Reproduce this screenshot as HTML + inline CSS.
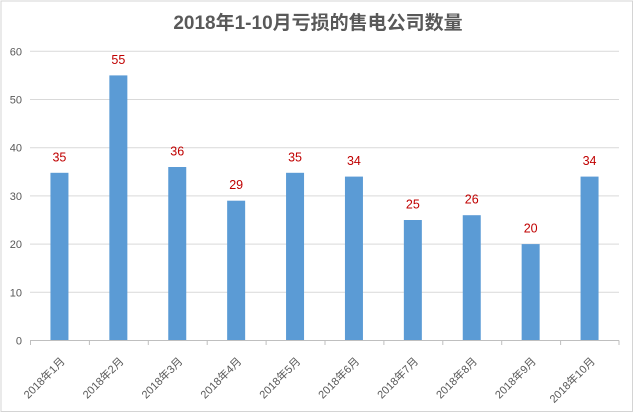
<!DOCTYPE html>
<html>
<head>
<meta charset="utf-8">
<style>
html,body{margin:0;padding:0;background:#fff;}
svg{display:block;}
</style>
</head>
<body>
<svg width="636" height="414" viewBox="0 0 636 414" xmlns="http://www.w3.org/2000/svg">
  <rect x="0" y="0" width="636" height="414" fill="#ffffff"/>
  <rect x="1" y="1" width="631.5" height="410.5" fill="none" stroke="#d4d4d4" stroke-width="1"/>

  <!-- title -->
  <text x="318" y="29" text-anchor="middle" font-family="'Liberation Sans','Noto Sans CJK SC',sans-serif" font-size="19" font-weight="bold" fill="#595959">2018年1-10月亏损的售电公司数量</text>

  <!-- gridlines -->
  <g stroke="#d9d9d9" stroke-width="1">
    <line x1="30" y1="51.3" x2="619" y2="51.3"/>
    <line x1="30" y1="99.5" x2="619" y2="99.5"/>
    <line x1="30" y1="147.7" x2="619" y2="147.7"/>
    <line x1="30" y1="195.9" x2="619" y2="195.9"/>
    <line x1="30" y1="244.1" x2="619" y2="244.1"/>
    <line x1="30" y1="292.3" x2="619" y2="292.3"/>
  </g>

  <!-- y labels -->
  <g font-family="'Liberation Sans',sans-serif" font-size="11" fill="#595959" text-anchor="end">
    <text x="22" y="55.3">60</text>
    <text x="22" y="103.5">50</text>
    <text x="22" y="151.7">40</text>
    <text x="22" y="199.9">30</text>
    <text x="22" y="248.1">20</text>
    <text x="22" y="296.3">10</text>
    <text x="22" y="344.5">0</text>
  </g>

  <!-- bars -->
  <g fill="#5b9bd5">
    <rect x="50.45" y="172.8" width="18" height="167.7"/>
    <rect x="109.35" y="75.4" width="18" height="265.1"/>
    <rect x="168.25" y="167.0" width="18" height="173.5"/>
    <rect x="227.15" y="200.7" width="18" height="139.8"/>
    <rect x="286.05" y="172.8" width="18" height="167.7"/>
    <rect x="344.95" y="176.6" width="18" height="163.9"/>
    <rect x="403.85" y="220.0" width="18" height="120.5"/>
    <rect x="462.75" y="215.2" width="18" height="125.3"/>
    <rect x="521.65" y="244.1" width="18" height="96.4"/>
    <rect x="580.55" y="176.6" width="18" height="163.9"/>
  </g>

  <!-- axis + ticks -->
  <g stroke="#bfbfbf" stroke-width="1">
    <line x1="30" y1="340.5" x2="619" y2="340.5"/>
    <line x1="30.5" y1="340.5" x2="30.5" y2="345"/>
    <line x1="89.4" y1="340.5" x2="89.4" y2="345"/>
    <line x1="148.3" y1="340.5" x2="148.3" y2="345"/>
    <line x1="207.2" y1="340.5" x2="207.2" y2="345"/>
    <line x1="266.1" y1="340.5" x2="266.1" y2="345"/>
    <line x1="325" y1="340.5" x2="325" y2="345"/>
    <line x1="383.9" y1="340.5" x2="383.9" y2="345"/>
    <line x1="442.8" y1="340.5" x2="442.8" y2="345"/>
    <line x1="501.7" y1="340.5" x2="501.7" y2="345"/>
    <line x1="560.6" y1="340.5" x2="560.6" y2="345"/>
    <line x1="619" y1="340.5" x2="619" y2="345"/>
  </g>

  <!-- data labels -->
  <g font-family="'Liberation Sans',sans-serif" font-size="12.5" fill="#c00000" text-anchor="middle">
    <text x="59.45" y="161.3">35</text>
    <text x="118.35" y="63.9">55</text>
    <text x="177.25" y="155.5">36</text>
    <text x="236.15" y="189.2">29</text>
    <text x="295.05" y="161.3">35</text>
    <text x="353.95" y="165.1">34</text>
    <text x="412.85" y="208.5">25</text>
    <text x="471.75" y="203.7">26</text>
    <text x="530.65" y="232.6">20</text>
    <text x="589.55" y="165.1">34</text>
  </g>

  <!-- x labels -->
  <g font-family="'Liberation Sans','Noto Sans CJK SC',sans-serif" font-size="11" fill="#595959" text-anchor="end">
    <text transform="translate(65.5,362) rotate(-45)">2018年1月</text>
    <text transform="translate(124.4,362) rotate(-45)">2018年2月</text>
    <text transform="translate(183.3,362) rotate(-45)">2018年3月</text>
    <text transform="translate(242.2,362) rotate(-45)">2018年4月</text>
    <text transform="translate(301.1,362) rotate(-45)">2018年5月</text>
    <text transform="translate(360,362) rotate(-45)">2018年6月</text>
    <text transform="translate(418.9,362) rotate(-45)">2018年7月</text>
    <text transform="translate(477.8,362) rotate(-45)">2018年8月</text>
    <text transform="translate(536.7,362) rotate(-45)">2018年9月</text>
    <text transform="translate(595.6,362) rotate(-45)">2018年10月</text>
  </g>
</svg>
</body>
</html>
